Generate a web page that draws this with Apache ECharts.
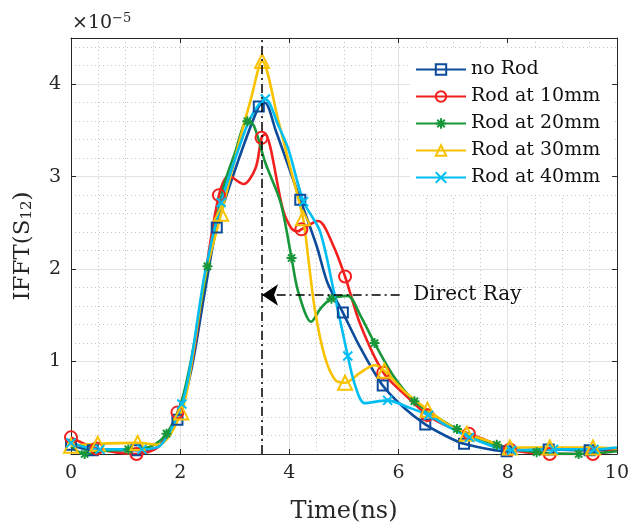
<!DOCTYPE html>
<html>
<head>
<meta charset="utf-8">
<script src="https://cdn.jsdelivr.net/npm/echarts@6/dist/echarts.min.js"></script>
<style>
html, body { margin: 0; padding: 0; background: #fff; }
#chart { width: 632px; height: 529px; }
</style>
</head>
<body>
<div id="chart"></div>
<script>
var seriesNames = ['no Rod', 'Rod at 10mm', 'Rod at 20mm', 'Rod at 30mm', 'Rod at 40mm'];
var seriesColors = ['#0d4c9b', '#f2211f', '#18973a', '#f9c200', '#00bdf2'];
var yTickLabels = [1, 2, 3, 4];

// no Rod (m = 1 where a marker is drawn)
var xNoRod = [0, 0.4, 1.2, 1.6, 1.95, 2.2, 2.45, 2.67, 3.05, 3.44, 3.55, 3.75, 4.2, 4.5, 4.7, 4.98, 5.3, 5.71, 6.1, 6.49, 6.85, 7.2, 7.98, 8.75, 9.5, 10];
var yNoRod = [0.1, 0.04, 0.04, 0.08, 0.37, 0.9, 1.75, 2.45, 3.15, 3.76, 3.8, 3.5, 2.75, 2.25, 1.85, 1.53, 1.15, 0.74, 0.5, 0.32, 0.2, 0.11, 0.03, 0.05, 0.04, 0.05];
var mNoRod = [1, 1, 1, 0, 1, 0, 0, 1, 0, 1, 0, 0, 1, 0, 0, 1, 0, 1, 0, 1, 0, 1, 1, 1, 1, 0];

// Rod at 10mm
var x10 = [0, 0.47, 1.2, 1.6, 1.95, 2.2, 2.45, 2.71, 2.89, 3.16, 3.38, 3.49, 3.55, 3.88, 4.04, 4.16, 4.22, 4.53, 4.8, 5.02, 5.3, 5.72, 6.1, 6.53, 6.9, 7.29, 7.6, 8.04, 8.77, 9.56, 10];
var y10 = [0.18, 0.06, 0.0, 0.08, 0.45, 0.95, 1.9, 2.8, 3.01, 2.92, 3.09, 3.42, 3.46, 2.65, 2.44, 2.41, 2.43, 2.52, 2.26, 1.92, 1.4, 0.88, 0.65, 0.42, 0.3, 0.22, 0.15, 0.05, 0.0, 0.0, 0.05];
var m10 = [1, 1, 1, 0, 1, 0, 0, 1, 0, 0, 0, 1, 0, 0, 0, 0, 1, 0, 0, 1, 0, 1, 0, 1, 0, 1, 0, 1, 1, 1, 0];

// Rod at 20mm
var x20 = [0, 0.25, 0.6, 1.05, 1.45, 1.75, 2.0, 2.2, 2.5, 2.8, 3.0, 3.23, 3.35, 3.56, 3.84, 4.04, 4.16, 4.4, 4.58, 4.77, 5.07, 5.3, 5.56, 5.9, 6.29, 6.7, 7.07, 7.8, 8.53, 9.3, 10];
var y20 = [0.08, 0.0, 0.03, 0.05, 0.08, 0.22, 0.52, 1.02, 2.03, 2.9, 3.25, 3.6, 3.55, 3.15, 2.72, 2.12, 1.76, 1.43, 1.58, 1.68, 1.71, 1.5, 1.2, 0.85, 0.57, 0.4, 0.27, 0.1, 0.02, 0.0, 0.03];
var m20 = [0, 1, 0, 1, 0, 1, 0, 0, 1, 0, 0, 1, 0, 0, 0, 1, 0, 0, 0, 1, 0, 0, 1, 0, 1, 0, 1, 1, 1, 1, 0];

// Rod at 30mm
var x30 = [0, 0.49, 1.22, 1.6, 2.02, 2.2, 2.45, 2.75, 3.07, 3.3, 3.5, 3.8, 3.98, 4.25, 4.35, 4.47, 4.65, 4.84, 5.02, 5.3, 5.56, 5.74, 6.1, 6.53, 6.9, 7.25, 7.6, 8.04, 8.77, 9.56, 10];
var y30 = [0.09, 0.11, 0.12, 0.1, 0.45, 0.95, 1.9, 2.6, 3.35, 3.85, 4.25, 3.6, 3.18, 2.55, 2.1, 1.55, 1.05, 0.8, 0.77, 0.88, 0.96, 0.9, 0.68, 0.48, 0.32, 0.22, 0.15, 0.07, 0.07, 0.07, 0.06];
var m30 = [1, 1, 1, 0, 1, 0, 0, 1, 0, 0, 1, 0, 0, 1, 0, 0, 0, 0, 1, 0, 0, 1, 0, 1, 0, 1, 0, 1, 1, 1, 0];

// Rod at 40mm
var x40 = [0, 0.53, 1.3, 1.65, 2.03, 2.2, 2.45, 2.75, 3.07, 3.3, 3.56, 3.8, 3.98, 4.26, 4.56, 4.8, 5.07, 5.2, 5.38, 5.8, 6.2, 6.55, 6.9, 7.3, 8.07, 8.84, 9.58, 10];
var y40 = [0.12, 0.05, 0.05, 0.1, 0.54, 1.0, 1.95, 2.72, 3.3, 3.65, 3.84, 3.55, 3.3, 2.73, 2.41, 1.8, 1.06, 0.75, 0.55, 0.58, 0.5, 0.42, 0.3, 0.18, 0.04, 0.05, 0.05, 0.07];
var m40 = [1, 1, 1, 0, 1, 0, 0, 1, 0, 0, 1, 0, 0, 1, 0, 0, 1, 0, 0, 1, 0, 1, 0, 1, 1, 1, 1, 0];

// annotation
var directRayX = 3.5;
var arrowY = 1.72;
var arrowStartX = 6.02;
var labelX = 6.27;

var font = 'DejaVu Serif';
var axisColor = '#262626';

var symbols = [
    'rect',
    'circle',
    'path://M0,-5L0,5M-5,0L5,0M-3.6,-3.6L3.6,3.6M-3.6,3.6L3.6,-3.6',
    'triangle',
    'path://M-5,-5L5,5M-5,5L5,-5'
];
var symbolSizes = [10, 12, 10, 14, 9];

function buildData(xs, ys, ms) {
    var out = [];
    for (var i = 0; i < xs.length; i++) {
        var item = { value: [xs[i], ys[i]] };
        if (!ms[i]) item.symbol = 'none';
        out.push(item);
    }
    return out;
}

var allX = [xNoRod, x10, x20, x30, x40];
var allY = [yNoRod, y10, y20, y30, y40];
var allM = [mNoRod, m10, m20, m30, m40];

var series = [];
for (var s = 0; s < 5; s++) {
    series.push({
        name: seriesNames[s],
        type: 'line',
        smooth: 0.3,
        showSymbol: true,
        showAllSymbol: true,
        symbol: symbols[s],
        symbolSize: symbolSizes[s],
        lineStyle: { color: seriesColors[s], width: 2.6 },
        itemStyle: { color: 'rgba(0,0,0,0)', borderColor: seriesColors[s], borderWidth: 2 },
        data: buildData(allX[s], allY[s], allM[s])
    });
}

// dash-dot marker line and arrow on top of last series
series[4].markLine = {
    silent: true,
    animation: false,
    symbol: 'none',
    label: { show: false },
    lineStyle: { color: '#000', width: 1.5, type: [9, 4, 2, 4] },
    data: [
        { xAxis: directRayX },
        [
            { coord: [arrowStartX, arrowY], symbol: 'none' },
            { coord: [directRayX, arrowY], symbol: 'arrow', symbolSize: 16 }
        ]
    ]
};
series[4].markPoint = {
    silent: true,
    animation: false,
    data: [{
        coord: [labelX, arrowY],
        symbol: 'circle',
        symbolSize: 0,
        label: {
            show: true,
            position: 'right',
            distance: 0,
            formatter: 'Direct Ray',
            fontFamily: font,
            fontSize: 20,
            color: '#111'
        }
    }]
};

var myChart = echarts.init(document.getElementById('chart'));

option = {
    animation: false,
    backgroundColor: '#fff',
    grid: { left: 71, right: 11, top: 38, bottom: 72 },
    legend: {
        orient: 'vertical',
        left: 410,
        top: 48,
        backgroundColor: '#fff',
        padding: [12, 12, 8, 5],
        itemWidth: 50,
        itemHeight: 13,
        itemGap: 8,
        textStyle: { fontFamily: font, fontSize: 19, color: '#111' },
        data: seriesNames
    },
    graphic: [{
        type: 'text',
        left: 72,
        top: 12,
        style: {
            text: '{a|×10}{b|−5}',
            rich: {
                a: { fontFamily: font, fontSize: 19, fill: axisColor },
                b: { fontFamily: font, fontSize: 13, fill: axisColor, verticalAlign: 'top', padding: [0, 0, 9, 0] }
            }
        }
    }],
    xAxis: [
        {
            type: 'value',
            min: 0,
            max: 10,
            interval: 2,
            name: 'Time(ns)',
            nameLocation: 'middle',
            nameGap: 46,
            nameTextStyle: { fontFamily: font, fontSize: 24, color: axisColor },
            axisLine: { lineStyle: { color: axisColor, width: 1 } },
            axisTick: { inside: true, length: 5, lineStyle: { color: axisColor } },
            axisLabel: { fontFamily: font, fontSize: 19, color: axisColor, margin: 10 },
            splitLine: { show: true, lineStyle: { color: '#e2e2e2', width: 1 } },
            minorTick: { show: false, splitNumber: 4 },
            minorSplitLine: { show: true, lineStyle: { color: '#c4c4c4', width: 1, type: [1, 3] } }
        },
        {
            type: 'value',
            position: 'top',
            min: 0,
            max: 10,
            interval: 2,
            axisLine: { show: true, onZero: false, lineStyle: { color: axisColor, width: 1 } },
            axisTick: { inside: true, length: 5, lineStyle: { color: axisColor } },
            axisLabel: { show: false },
            splitLine: { show: false }
        }
    ],
    yAxis: [
        {
            type: 'value',
            min: 0,
            max: 4.5,
            interval: 1,
            name: '{n|IFFT(S}{s|12}{n|)}',
            nameLocation: 'middle',
            nameGap: 36,
            nameTextStyle: {
                rich: {
                    n: { fontFamily: font, fontSize: 23, color: axisColor },
                    s: { fontFamily: font, fontSize: 15, color: axisColor, padding: [8, 0, 0, 0] }
                }
            },
            axisLine: { show: true, lineStyle: { color: axisColor, width: 1 } },
            axisTick: { inside: true, length: 5, lineStyle: { color: axisColor } },
            axisLabel: {
                fontFamily: font, fontSize: 19, color: axisColor, margin: 10,
                formatter: function (v) {
                    return yTickLabels.indexOf(v) >= 0 ? String(v) : '';
                }
            },
            splitLine: { show: true, lineStyle: { color: '#e2e2e2', width: 1 } },
            minorTick: { show: false, splitNumber: 5 },
            minorSplitLine: { show: true, lineStyle: { color: '#c4c4c4', width: 1, type: [1, 3] } }
        },
        {
            type: 'value',
            position: 'right',
            min: 0,
            max: 4.5,
            interval: 1,
            axisLine: { show: true, onZero: false, lineStyle: { color: axisColor, width: 1 } },
            axisTick: { inside: true, length: 5, lineStyle: { color: axisColor } },
            axisLabel: { show: false },
            splitLine: { show: false }
        }
    ],
    series: series
};

myChart.setOption(option);
</script>
</body>
</html>
